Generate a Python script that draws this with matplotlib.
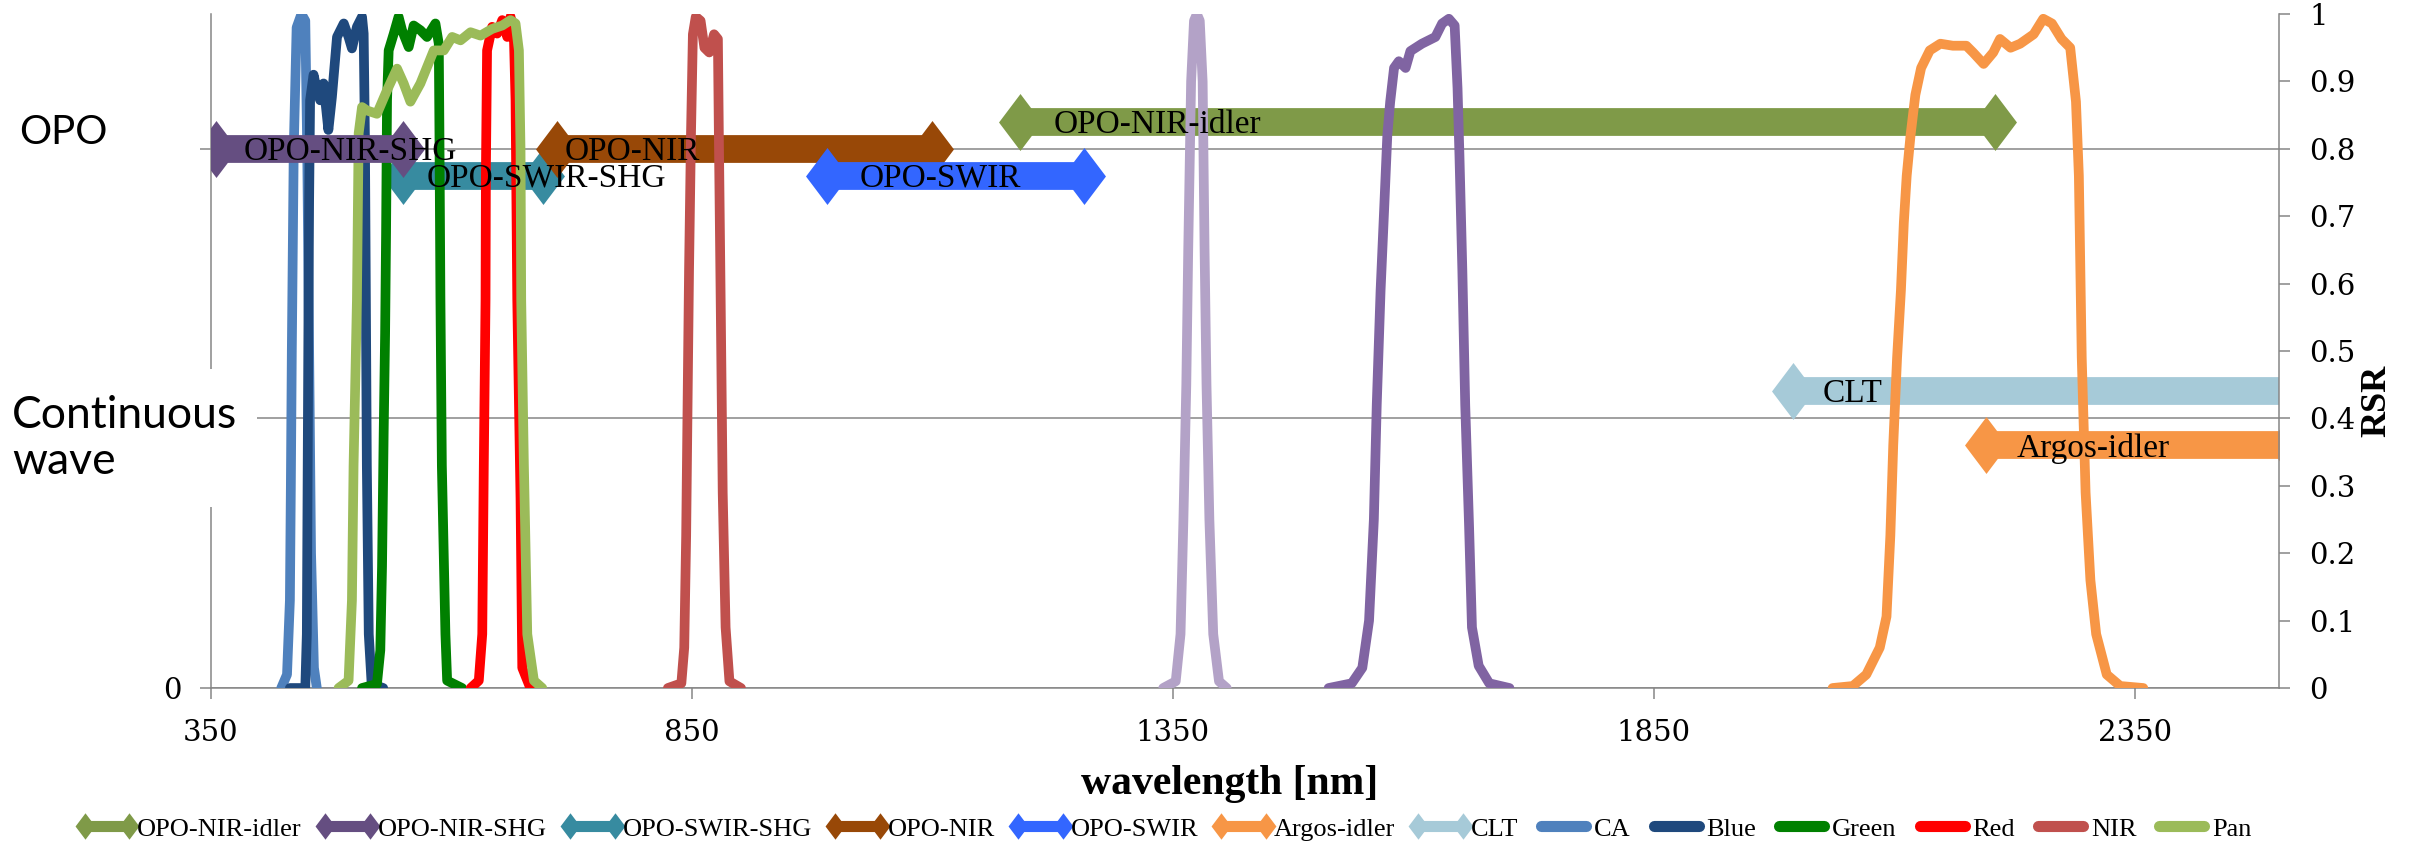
import numpy as np
import matplotlib
matplotlib.use('Agg')
import matplotlib.pyplot as plt
from matplotlib.path import Path
from matplotlib.lines import Line2D
from matplotlib.patches import Rectangle

# sensor band responses (wavelength nm, relative spectral response)
ca_nm = [423, 429, 432, 433, 434, 436, 439, 444, 448, 450, 452, 454, 457, 460]
ca_rsr = [0, 0.02, 0.13, 0.3, 0.5, 0.8, 0.98, 1.0, 0.99, 0.8, 0.5, 0.2, 0.03, 0]

blue_nm = [432, 448, 449.6, 450.5, 451.4, 452, 453, 456.6, 460, 463.5, 467, 472, 475.7,
           481, 488, 493, 496.5, 501.7, 507, 508.7, 510, 511, 512, 514, 517, 529]
blue_rsr = [0, 0, 0.08, 0.33, 0.576, 0.724, 0.872, 0.91, 0.887, 0.872, 0.897, 0.828, 0.877,
            0.966, 0.986, 0.966, 0.949, 0.981, 0.996, 0.971, 0.82, 0.58, 0.33, 0.08, 0.006, 0]

green_nm = [507, 522.5, 526, 527.8, 529.5, 531, 532, 533, 534.7, 540, 545, 548.6, 555.5,
            560.7, 567.7, 574.6, 583.3, 586.8, 587.5, 588.5, 590, 593.7, 595.5, 611]
green_rsr = [0, 0.006, 0.056, 0.18, 0.378, 0.526, 0.675, 0.872, 0.946, 0.971, 0.996, 0.976, 0.951,
             0.983, 0.976, 0.966, 0.986, 0.956, 0.82, 0.58, 0.33, 0.08, 0.011, 0]

red_nm = [620, 628.4, 632, 633.6, 635.4, 635.8, 637, 642.3, 647.5, 652.8, 658, 661.4, 665,
          666.6, 668.4, 671.8, 673.6, 682]
red_rsr = [0, 0.011, 0.08, 0.33, 0.576, 0.768, 0.946, 0.981, 0.971, 0.991, 0.966, 0.996, 0.961,
           0.872, 0.576, 0.28, 0.03, 0]

nir_nm = [825, 839, 842, 844, 845.5, 847, 849, 851, 854, 859, 863, 868, 873, 877, 878, 880,
          882, 885, 889, 901]
nir_rsr = [0, 0.007, 0.06, 0.226, 0.425, 0.62, 0.82, 0.97, 0.996, 0.99, 0.95, 0.943, 0.97,
           0.963, 0.82, 0.56, 0.29, 0.09, 0.01, 0]

pan_nm = [482.6, 493, 496.5, 498.2, 501.7, 503.5, 507, 512, 522.5, 533, 543.4, 550.3, 557.3,
          567.7, 581.6, 592, 600.7, 609.4, 619.8, 630.2, 642.3, 652.8, 661.4, 666.6, 670.1,
          671.8, 672.5, 675.3, 678.8, 685.7, 694.4]
pan_rsr = [0, 0.011, 0.13, 0.33, 0.576, 0.823, 0.862, 0.857, 0.852, 0.887, 0.919, 0.897, 0.87,
           0.897, 0.946, 0.946, 0.966, 0.961, 0.973, 0.968, 0.978, 0.983, 0.991, 0.986, 0.946,
           0.798, 0.576, 0.33, 0.08, 0.011, 0]

cirrus_nm = [1340, 1353, 1358, 1361, 1364, 1366, 1369, 1372, 1375, 1378, 1381, 1383, 1385,
             1388, 1392, 1398, 1406]
cirrus_rsr = [0, 0.01, 0.08, 0.25, 0.45, 0.65, 0.9, 0.99, 1.0, 0.99, 0.9, 0.65, 0.45,
              0.25, 0.08, 0.01, 0]

swir1_nm = [1512, 1536, 1547, 1554, 1559, 1562, 1566, 1570, 1573, 1576, 1580, 1585, 1592,
            1597, 1609, 1623, 1630, 1637, 1643, 1646, 1648, 1651, 1654, 1658, 1661, 1668,
            1679, 1700]
swir1_rsr = [0, 0.007, 0.03, 0.1, 0.25, 0.42, 0.59, 0.72, 0.82, 0.87, 0.92, 0.93, 0.92,
             0.945, 0.956, 0.966, 0.986, 0.993, 0.983, 0.89, 0.79, 0.62, 0.42, 0.24, 0.09,
             0.033, 0.007, 0]

swir2_nm = [2036, 2057, 2071, 2085, 2092, 2096, 2099, 2103, 2107, 2110, 2113, 2117, 2122,
            2128, 2137, 2148, 2161, 2175, 2182, 2193, 2203, 2210, 2221, 2231, 2245, 2255,
            2264, 2274, 2283, 2289, 2292, 2295, 2299, 2304, 2310, 2321, 2335, 2359]
swir2_rsr = [0, 0.003, 0.02, 0.06, 0.106, 0.226, 0.36, 0.49, 0.59, 0.69, 0.76, 0.82, 0.88,
             0.92, 0.946, 0.956, 0.953, 0.953, 0.943, 0.926, 0.943, 0.963, 0.95, 0.956, 0.97,
             0.993, 0.986, 0.963, 0.95, 0.87, 0.76, 0.49, 0.29, 0.16, 0.08, 0.02, 0.003, 0]

# laser ranges: name, start nm, end nm, level
laser_names = ['OPO-NIR-idler', 'OPO-NIR-SHG', 'OPO-SWIR-SHG', 'OPO-NIR', 'OPO-SWIR',
               'Argos-idler', 'CLT']
laser_start = [1191, 355, 550, 710, 990, 2195, 1995]
laser_end = [2205, 550, 695, 1100, 1258, 2510, 2650]
laser_level = [0.84, 0.80, 0.76, 0.80, 0.76, 0.36, 0.44]
laser_label_x = [1226, 384, 574, 718, 1024, 2227, 2026]
laser_colors = ['#7F9A48', '#654E81', '#378BA0', '#984807', '#3366FF', '#F79646', '#A6CAD8']

band_names = ['CA', 'Blue', 'Green', 'Red', 'NIR', 'Pan']
band_colors = ['#4F81BD', '#1F497D', '#008000', '#FF0000', '#C0504D', '#9BBB59']
band_nm = [ca_nm, blue_nm, green_nm, red_nm, nir_nm, pan_nm]
band_rsr = [ca_rsr, blue_rsr, green_rsr, red_rsr, nir_rsr, pan_rsr]

extra_colors = ['#B3A2C7', '#8064A2', '#F79646']
extra_nm = [cirrus_nm, swir1_nm, swir2_nm]
extra_rsr = [cirrus_rsr, swir1_rsr, swir2_rsr]

x_ticks = [350, 850, 1350, 1850, 2350]
rsr_ticks = [0, 0.1, 0.2, 0.3, 0.4, 0.5, 0.6, 0.7, 0.8, 0.9, 1.0]
rsr_tick_labels = ['0', '0.1', '0.2', '0.3', '0.4', '0.5', '0.6', '0.7', '0.8', '0.9', '1']

plt.rcParams['font.family'] = 'DejaVu Serif'
grey = '#868686'
diamond = Path([(-0.377, 0), (0, 0.5), (0.377, 0), (0, -0.5), (-0.377, 0)], closed=True)

fig = plt.figure(figsize=(24.2, 8.51), dpi=100)
ax = fig.add_axes([0.0872, 0.1915, 0.8545, 0.792])
ax.set_xlim(350, 2500)
ax.set_ylim(0, 1)

for x0, x1, y, c, name, lx in zip(laser_start, laser_end, laser_level, laser_colors,
                                  laser_names, laser_label_x):
    z = 4 if name == 'OPO-NIR-SHG' else 2
    ax.plot([x0, x1], [y, y], color=c, lw=20, solid_capstyle='butt', marker=diamond,
            ms=41, mew=0, zorder=z)
    ax.text(lx, y - 0.004, name, family='Liberation Serif', fontsize=24, va='center',
            ha='left', zorder=6, clip_on=True)

for nm, r, c in zip(band_nm, band_rsr, band_colors):
    ax.plot(nm, r, color=c, lw=7, solid_joinstyle='round', solid_capstyle='round', zorder=3)
for nm, r, c in zip(extra_nm, extra_rsr, extra_colors):
    ax.plot(nm, r, color=c, lw=7, solid_joinstyle='round', solid_capstyle='round', zorder=3)

ax.set_xticks(x_ticks)
ax.set_xticklabels([str(t) for t in x_ticks])
ax.set_yticks([0, 0.4, 0.8])
ax.set_yticklabels(['0', '', ''])
ax.yaxis.grid(True, color=grey, lw=1.1)
ax.set_axisbelow(True)
ax.tick_params(axis='x', length=8, width=1.1, color=grey, labelsize=21, pad=14)
ax.tick_params(axis='y', length=8, width=1.1, color=grey, labelsize=21, pad=13)
for s in ['top', 'right']:
    ax.spines[s].set_visible(False)
for s in ['left', 'bottom']:
    ax.spines[s].set_color(grey)
    ax.spines[s].set_linewidth(1.1)

ax2 = ax.twinx()
ax2.set_ylim(0, 1)
ax2.set_yticks(rsr_ticks)
ax2.set_yticklabels(rsr_tick_labels)
ax2.tick_params(axis='y', length=8, width=1.1, color=grey, labelsize=21, pad=14)
for s in ['top', 'left', 'bottom']:
    ax2.spines[s].set_visible(False)
ax2.spines['right'].set_color(grey)
ax2.spines['right'].set_linewidth(1.1)

fig.text(0.982, 0.529, 'RSR', rotation=90, family='Liberation Serif', weight='bold',
         fontsize=26, ha='center', va='center')
fig.text(0.508, 0.079, 'wavelength [nm]', family='Liberation Serif', weight='bold',
         fontsize=30, ha='center', va='center')

fig.add_artist(Rectangle((0, 0.404), 0.1062, 0.162, transform=fig.transFigure,
                         facecolor='white', edgecolor='none', zorder=1))
fig.text(0.0077, 0.844, 'OPO', family='Lato', fontsize=29, ha='left', va='center')
fig.text(0.005, 0.485, 'Continuous\nwave', family='Lato', fontsize=32, ha='left',
         va='center', linespacing=1.15)

handles = []
for c in laser_colors:
    handles.append(Line2D([], [], color=c, lw=8, marker=diamond, ms=19, mew=0,
                          solid_capstyle='butt'))
for c in band_colors:
    handles.append(Line2D([], [], color=c, lw=8, solid_capstyle='round'))
fig.legend(handles, laser_names + band_names, loc='center', bbox_to_anchor=(0.481, 0.026),
           ncol=13, frameon=False, prop={'family': 'Liberation Serif', 'size': 19},
           handlelength=2.3, handletextpad=0.0, columnspacing=0.57, numpoints=2,
           borderaxespad=0)

fig.savefig('out.png', dpi=100)
